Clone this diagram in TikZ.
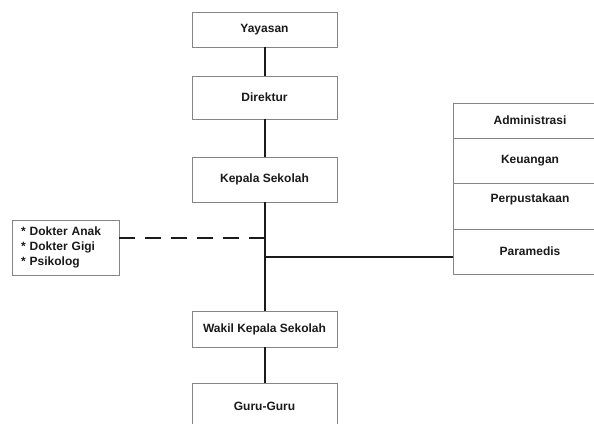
\documentclass[tikz,border=0pt]{standalone}
\usepackage{fontspec}
\setmainfont{Liberation Sans}
\usetikzlibrary{positioning}
\definecolor{boxline}{HTML}{858585}
\definecolor{ink}{HTML}{1A1A1A}
\tikzset{
  every node/.style={font=\bfseries\fontsize{12}{15}\selectfont, text=ink},
  orgbox/.style={rectangle, draw=boxline, fill=white, line width=0.9pt,
    minimum width=145pt, inner sep=0pt, outer sep=0pt, align=center},
  cell/.style={orgbox, minimum width=154pt},
  trunk/.style={draw=ink, line width=2pt},
  staff/.style={trunk, dash pattern=on 16pt off 10pt}
}
\begin{document}
\begin{tikzpicture}[x=1pt,y=-1pt]
  % Page frame (the lowest box and the right column run past it).
  \clip (0,0) rectangle (594,423);
  \fill[white] (0,0) rectangle (594,423);

  % Main line of command.
  \node[orgbox, minimum height=35pt] (yayasan) at (264.5,29.5) {Yayasan};
  \node[orgbox, minimum height=43pt] (direktur) at (264.5,97.5) {Direktur};
  \node[orgbox, minimum height=45pt] (kepala) at (264.5,179.5) {Kepala Sekolah};
  \node[orgbox, minimum height=36pt] (wakil) at (264.5,329) {Wakil Kepala Sekolah};
  \node[orgbox, minimum height=47pt] (guru) at (264.5,406.5) {Guru-Guru};

  \draw[trunk] (yayasan) -- (direktur);
  \draw[trunk] (direktur) -- (kepala);
  \draw[trunk] (kepala) -- (wakil);
  \draw[trunk] (wakil) -- (guru);

  % Staff column on the right.
  \node[cell, minimum height=35pt] (admin) at (530,120.5) {Administrasi};
  \node[cell, minimum height=45pt, below=0pt of admin] (keuangan) {Keuangan};
  \node[cell, minimum height=46pt, below=0pt of keuangan] (perpus)
    {Perpustakaan\\ \mbox{}};
  \node[cell, minimum height=45pt, below=0pt of perpus] (paramedis) {Paramedis};

  \coordinate (staffjoin) at (264.5,257);
  \draw[trunk] (staffjoin) -- (staffjoin -| paramedis.west);

  % Outside consultants, dashed link.
  \node[orgbox, minimum width=107pt, minimum height=55pt, align=left,
    text width=89pt, inner xsep=9pt]
    (dokter) at (65.5,247.5)
    {{*} Dokter Anak\\{*} Dokter Gigi\\{*} Psikolog};
  \coordinate (consultjoin) at (264.5,238);
  \draw[staff] (consultjoin -| dokter.east) -- (consultjoin);
\end{tikzpicture}
\end{document}
